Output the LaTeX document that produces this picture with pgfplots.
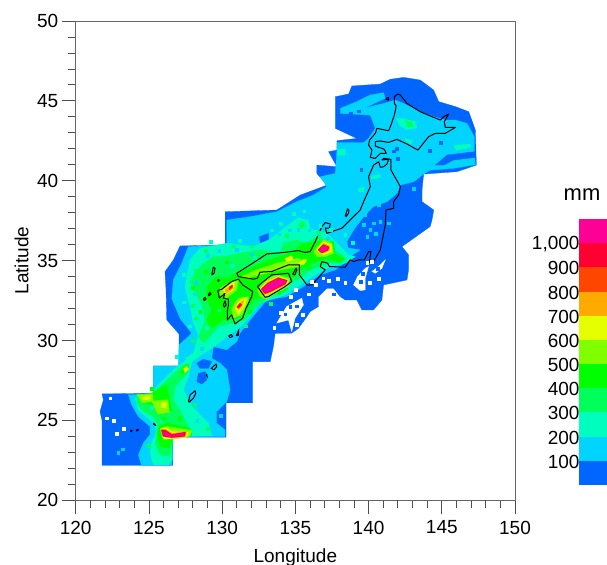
\documentclass[border=0pt]{standalone}
\usepackage{fontspec}
\setmainfont{Liberation Sans}
\usepackage{pgfplots}
\pgfplotsset{compat=1.18}
\definecolor{c0}{RGB}{0,102,255}
\definecolor{c1}{RGB}{0,212,255}
\definecolor{c2}{RGB}{0,255,190}
\definecolor{c3}{RGB}{0,255,90}
\definecolor{c4}{RGB}{0,255,0}
\definecolor{c5}{RGB}{128,255,0}
\definecolor{c6}{RGB}{230,255,0}
\definecolor{c7}{RGB}{255,170,0}
\definecolor{c8}{RGB}{255,70,0}
\definecolor{c9}{RGB}{255,0,50}
\definecolor{c10}{RGB}{255,0,150}
\newcommand\fs{\fontsize{19bp}{22bp}\selectfont}
\newcommand\poly[2]{\addplot[fill=#1,draw=#1,line width=0.3pt] coordinates {#2} -- cycle;}
\newcommand\grow[3]{\addplot[fill=#1,draw=#1,line width=#2,line join=round] coordinates {#3} -- cycle;}
\newcommand\coast[1]{\addplot[draw=black,line width=1bp,line join=round] coordinates {#1} -- cycle;}
\newcommand\isle[1]{\addplot[fill=black,draw=black,line width=0.5bp] coordinates {#1} -- cycle;}
\newcommand\speck[2]{\addplot[only marks,mark=square*,mark size=1.4bp,color=#1] coordinates {#2};}
\begin{document}
\begin{tikzpicture}[x=1bp,y=1bp]
\path[use as bounding box] (0,0) rectangle (607,565);
\begin{axis}[
  at={(75.7bp,64.7bp)},anchor=south west,scale only axis,
  width=439.3bp,height=479.3bp,
  xmin=120,xmax=150,ymin=20,ymax=50,
  xtick={120,125,...,150},ytick={20,25,...,50},
  minor x tick num=4,minor y tick num=4,
  xtick pos=bottom,ytick pos=left,tick align=outside,
  major tick length=14bp,minor tick length=7.5bp,
  every tick/.style={draw=black!70,line width=0.8bp},
  axis line style={draw=black!60,line width=0.9bp},
  /pgf/number format/assume math mode=true,
  /pgf/number format/1000 sep={},
  tick label style={font=\fs},
  xticklabel style={yshift=-3bp},
  xlabel={Longitude},ylabel={Latitude},
  xlabel style={font=\fs,at={(axis description cs:0.5,0)},anchor=center,yshift=-57bp},
  ylabel style={font=\fs,at={(axis description cs:0,0.5)},anchor=center,yshift=54bp},
  clip=true,
]
% level 0: 0-100 mm
\poly{c0}{(137.73,45.26)(138.64,45.43)(138.86,45.93)(140.8,46.05)(141.48,46.35)(142.4,46.47)(143.53,46.30)(144.44,45.68)(144.79,44.95)(145.93,44.64)(146.84,44.32)(147.29,43.18)(147.36,40.98)(146.04,40.57)(143.76,40.42)(143.65,39.42)(143.65,38.69)(144.45,38.17)(144.33,37.54)(144.2,37.13)(142.28,35.88)(142.73,35.36)(142.73,34.42)(142.62,33.79)(141.02,33.48)(140.91,32.54)(140.34,31.92)(139.54,31.92)(139.2,32.54)(138.41,32.54)(138.06,32.75)(137.61,33.27)(137.15,33.27)(136.58,32.75)(136.58,32.13)(136.01,31.81)(135.79,31.5)(135.22,30.77)(134.75,30.46)(133.62,30.45)(133.5,29.62)(133.28,28.68)(132.09,28.68)(132.09,26.1)(130.27,26.1)(130.27,23.95)(126.63,23.95)(126.63,22.19)(121.8,22.19)(121.8,25.0)(121.66,25.55)(121.89,26.28)(121.8,26.66)(125.3,26.7)(125.3,28.41)(127.06,28.41)(127.06,30.41)(126.22,31.29)(126.17,33.17)(126.1,34.31)(126.67,35.04)(127.13,35.92)(130.21,35.98)(130.21,38.06)(133.74,38.17)(135.33,39.1)(137.16,39.73)(136.47,40.46)(136.47,40.98)(137.84,40.88)(137.27,41.82)(137.84,41.92)(137.84,42.51)(139.2,42.65)(137.73,43.28)(137.73,44.2)}
% holes without data
\poly{white}{(133.73,31.09)(134.41,32.13)(135.44,32.65)(135.55,32.23)(134.98,31.4)(134.75,30.56)(134.53,31.29)}
\poly{white}{(138.97,33.48)(139.25,34.0)(139.77,34.52)(140.0,34.63)(139.77,33.9)(139.77,33.17)(139.43,33.13)}
\poly{white}{(140.23,34.32)(140.8,34.73)(141.14,35.05)(140.91,34.52)(140.46,34.21)}
% level 1: 100-200 mm
\poly{c1}{(138.07,44.53)(139.2,44.95)(140.12,45.37)(141.03,45.51)(141.14,45.16)(139.66,44.53)(141.03,44.84)(141.82,45.05)(142.39,44.84)(143.53,44.32)(144.44,44.01)(145.24,43.8)(145.93,43.8)(146.72,43.59)(147.22,42.76)(147.22,41.82)(147.29,41.0)(145.81,40.78)(144.22,40.67)(143.65,40.36)(143.53,40.25)(143.08,39.94)(142.17,39.73)(141.94,39.21)(141.26,38.69)(140.34,38.38)(139.66,37.75)(138.98,36.92)(138.52,36.19)(138.6,35.8)(139.43,35.67)(138.75,35.25)(138.63,35.05)(137.72,34.42)(136.7,34.11)(135.56,33.38)(134.42,32.75)(133.05,32.55)(131.91,31.29)(131.22,30.46)(131.0,29.94)(130.31,29.42)(129.4,29.62)(129.29,28.89)(129.86,28.58)(130.32,28.16)(130.54,26.91)(130.32,26.18)(129.63,25.55)(129.63,24.82)(130.2,24.4)(130.2,23.99)(126.58,23.99)(126.58,22.21)(124.51,22.16)(124.28,22.84)(124.62,23.58)(125.08,24.1)(125.08,24.62)(124.28,25.24)(123.83,25.97)(123.6,26.6)(125.31,26.64)(125.31,28.41)(127.01,28.41)(127.06,29.72)(127.92,30.45)(127.13,31.39)(126.56,32.64)(126.67,33.79)(127.24,34.83)(127.7,35.88)(130.32,35.96)(130.32,37.54)(131.92,37.75)(133.74,38.06)(135.1,38.69)(136.25,39.11)(137.16,39.63)(136.7,40.25)(137.73,40.46)(137.84,41.92)(137.84,42.38)(139.66,42.38)(140.0,42.65)(140.46,43.28)(140.12,44.11)(138.07,44.22)}
\poly{c0}{(144.56,40.98)(145.36,41.61)(147.29,41.82)(147.29,41.46)(145.81,41.3)(145.13,40.98)}
\poly{c0}{(128.27,28.58)(128.72,28.83)(129.29,28.68)(129.06,28.26)(128.49,28.26)}
\poly{c0}{(128.38,27.95)(128.84,28.05)(128.95,27.53)(128.61,27.28)(128.27,27.43)}
\poly{c0}{(132.55,36.5)(133.17,36.71)(133.17,36.18)(132.6,36.12)}
% level 2: 200-300 mm
\poly{c2}{(127.81,35.05)(128.49,35.78)(130.31,36.09)(132.13,35.88)(133.2,36.3)(134.2,37.0)(135.2,37.7)(135.9,37.5)(136.01,37.0)(137.15,36.71)(138.06,35.88)(138.63,35.36)(139.09,35.25)(138.41,34.84)(137.38,34.63)(136.36,34.11)(135.33,33.48)(134.31,32.86)(132.59,32.34)(131.79,31.4)(131.11,30.77)(130.2,30.15)(129.29,29.52)(128.38,29.0)(127.93,28.69)(127.7,27.75)(127.36,26.91)(127.93,25.87)(129.06,24.83)(129.29,24.03)(126.6,24.0)(126.6,22.53)(126.33,22.22)(125.31,22.22)(125.08,22.95)(125.19,23.58)(125.53,24.31)(125.31,24.83)(124.28,25.66)(124.05,26.39)(124.28,26.64)(125.31,26.64)(125.31,26.91)(125.99,27.54)(126.79,28.27)(127.58,28.79)(127.47,28.89)(128.04,29.2)(128.38,30.35)(128.03,31.09)(127.81,32.13)(127.46,33.38)}
\poly{c2}{(141.9,43.9)(142.3,43.9)(143.2,43.7)(143.3,43.3)(142.6,43.2)(142.1,43.5)}
\poly{c2}{(142.5,42.65)(143.0,42.5)(142.9,42.3)(142.5,42.5)}
\poly{c2}{(145.8,42.2)(146.9,42.3)(147,42.1)(146,41.9)}
\poly{c2}{(139.3,39.5)(139.7,39.6)(139.7,39.3)(139.3,39.3)}
\poly{c2}{(140.2,40.3)(140.8,40.4)(140.8,40.2)(140.2,40.1)}
\poly{c2}{(137.9,41.95)(138.4,42)(138.4,41.6)(137.9,41.6)}
% level 3: 300-400 mm
\poly{c3}{(128.49,34.63)(129.4,35.26)(130.2,35.26)(131.22,35.47)(132.59,35.67)(133.96,35.47)(134.19,36.09)(135.1,36.3)(135.79,36.09)(136.47,36.51)(137.15,36.3)(137.61,35.67)(138.18,35.36)(138.29,34.94)(137.27,34.84)(136.01,34.42)(135.33,33.9)(134.65,33.59)(134.19,33.06)(133.05,32.65)(132.02,31.82)(131.57,31.29)(130.77,31.09)(129.74,30.88)(129.06,30.15)(128.72,29.83)(128.38,30.25)(128.83,31.19)(128.6,32.34)(128.15,32.96)(127.81,33.69)}
\poly{c3}{(124.17,26.6)(125.31,26.7)(125.88,27.23)(127.24,28.37)(127.7,28.58)(127.7,28.06)(126.79,27.12)(126.67,26.29)(127.24,25.45)(127.7,24.62)(127.93,24.1)(126.67,23.89)(126.45,22.74)(125.76,22.84)(125.42,23.58)(125.76,24.51)(125.31,25.24)(124.62,25.56)(124.17,26.08)}
\poly{c3}{(135.2,37.2)(135.5,37.5)(135.7,37.2)(135.4,37.0)}
\poly{c3}{(142.5,43.75)(142.95,43.7)(143.05,43.4)(142.7,43.35)}
% level 4: 400-500 mm
\poly{c4}{(128.95,33.38)(129.63,34.01)(130.31,33.9)(131.0,34.21)(132.13,34.63)(133.27,35.05)(134.87,35.57)(135.56,36.09)(136.36,36.19)(137.61,36.19)(137.72,35.36)(138.41,35.15)(138.06,34.84)(137.15,35.15)(136.13,34.84)(135.33,34.42)(134.65,33.79)(134.42,33.17)(132.82,32.65)(132.25,32.65)(132.02,32.34)(131.45,31.61)(130.77,31.29)(130.08,31.29)(129.29,30.77)(128.95,31.29)(129.29,31.92)(128.95,32.65)}
\poly{c4}{(124.28,26.6)(125.19,26.7)(125.76,27.02)(126.22,27.23)(126.35,26.6)(126.55,25.6)(125.76,25.36)(125.19,25.98)(124.62,26.08)}
\poly{c4}{(125.65,24.62)(126.22,24.83)(127.81,24.51)(127.93,24.03)(126.6,23.83)(126.38,23.26)(125.76,23.37)(125.53,24.1)}
\poly{c4}{(127.13,28)(127.58,28.54)(127.74,28.37)(127.29,27.91)}
% level 5: 500-600 mm
\poly{c5}{(129.86,33.28)(130.65,33.69)(131.11,33.8)(131.0,33.17)(130.31,32.65)(129.86,32.86)}
\poly{c5}{(130.65,32.02)(131.11,32.65)(131.79,32.75)(131.79,32.34)(131.34,31.61)(130.77,31.4)}
\poly{c5}{(132.41,33.17)(132.93,33.8)(133.73,34.11)(134.64,33.9)(134.53,33.38)(133.5,32.86)(133.05,32.59)(132.59,32.75)}
\poly{c5}{(131.34,34.01)(132.36,34.42)(133.73,34.84)(135.21,35.15)(135.55,34.94)(135.32,34.63)(133.96,34.42)(132.59,34.11)(131.68,33.9)}
\poly{c5}{(136.24,35.57)(136.92,36.3)(137.49,36.09)(137.61,35.46)(137.04,35.25)(136.47,35.25)}
\poly{c5}{(124.2,26.6)(125.25,26.65)(125.3,26.2)(124.55,26.1)}
\poly{c5}{(125.2,26.2)(126.3,26.3)(126.4,25.5)(125.6,25.4)}
\poly{c5}{(125.76,24.51)(126.22,24.62)(127.93,24.37)(127.81,24.03)(126.6,23.89)(125.99,23.78)}
% level 6: 600-700 mm
\poly{c6}{(130.08,33.17)(130.65,33.59)(130.88,33.69)(130.77,33.17)(130.2,32.86)}
\poly{c6}{(130.88,32.02)(131.22,32.55)(131.72,32.71)(131.57,32.23)(131.11,31.61)}
\poly{c6}{(132.59,33.21)(133.05,33.69)(133.84,34.01)(134.53,33.8)(134.41,33.42)(133.27,32.96)(132.86,32.75)}
\poly{c6}{(136.47,35.67)(136.92,36.19)(137.49,35.98)(137.49,35.57)(136.92,35.36)}
\poly{c6}{(135.22,34.84)(135.56,35.09)(135.79,35.05)(135.56,34.73)}
\poly{c6}{(134.3,35.15)(134.75,35.3)(134.87,35.05)(134.41,34.94)}
\poly{c6}{(124.51,26.45)(125.08,26.54)(125.08,26.33)(124.62,26.29)}
\poly{c6}{(125.88,26.12)(126.22,26.08)(126.17,25.77)(125.83,25.81)}
\poly{c6}{(125.83,24.51)(126.22,24.51)(126.56,24.3)(127.7,24.24)(127.58,23.95)(126.56,23.83)(125.99,23.89)}
\poly{c6}{(127.36,28.21)(127.58,28.41)(127.7,28.21)(127.47,28.0)}
% level 7: 700-800 mm
\poly{c7}{(130.2,33.17)(130.65,33.48)(130.77,33.28)(130.31,32.96)}
\poly{c7}{(131.0,32.13)(131.34,32.44)(131.5,32.55)(131.34,32.13)(131.11,31.92)}
\poly{c7}{(132.64,33.21)(133.09,33.63)(133.84,33.96)(134.46,33.75)(134.3,33.48)(133.27,33.0)(132.86,32.86)}
\poly{c7}{(136.54,35.67)(136.92,36.09)(137.38,35.92)(137.33,35.63)(136.88,35.46)}
\poly{c7}{(125.83,24.45)(126.15,24.45)(126.6,24.2)(127.58,24.3)(127.52,23.99)(126.56,23.89)(125.99,23.99)}
% levels 8-10: 800 mm and over
\poly{c9}{(131.0,32.09)(131.22,32.34)(131.34,32.23)(131.11,32.02)}
\poly{c9}{(130.49,33.34)(130.7,33.48)(130.7,33.34)(130.49,33.17)}
\grow{c9}{1.2bp}{(132.7,33.21)(133.16,33.59)(133.84,33.9)(134.41,33.75)(134.3,33.55)(133.27,33.07)(132.93,32.96)}
\grow{c9}{1.2bp}{(136.58,35.67)(136.92,35.98)(137.27,35.84)(137.2,35.67)(136.81,35.5)}
\grow{c9}{1.2bp}{(125.88,24.37)(126.1,24.37)(126.56,24.1)(127.47,24.24)(127.42,24.03)(126.56,23.95)(125.99,24.03)}
\poly{c10}{(132.75,33.21)(133.16,33.55)(133.84,33.86)(134.36,33.72)(134.25,33.55)(133.27,33.11)(132.93,33.0)}
\poly{c10}{(136.62,35.67)(136.92,35.94)(137.22,35.82)(137.15,35.68)(136.81,35.54)}
\poly{c10}{(125.92,24.3)(126.1,24.3)(126.56,24.05)(127.4,24.18)(127.38,24.07)(126.56,23.99)(126.05,24.07)}
% speckle
\speck{white}{(122.12,25.14)(122.62,24.97)(123.26,24.47)(122.8,24.16)(122.35,26.39)(139.9,34.85)(140.2,34.95)(136.9,33.9)(136.4,33.5)(137.3,33.75)(137.9,33.85)(138.4,33.6)(136.1,33.7)(135.0,33.2)(134.7,32.75)(135.1,31.0)(135.5,31.6)(133.55,30.8)(134.0,31.75)(135.9,32.9)(140.7,33.85)(140.05,33.6)}
\speck{c0}{(134.3,31.65)(134.65,32.1)(135.1,32.15)(139.45,33.7)(139.6,34.2)(140.6,34.5)(137.6,32.9)(138.0,33.05)}
\speck{c1}{(133.9,36.65)(134.6,36.9)(135.2,36.95)(135.95,36.9)(136.6,36.65)(137.2,36.4)(129.0,35.3)(129.8,35.6)(131.0,35.7)(132.0,35.4)(128.2,33.6)(128.1,32.9)(128.2,30.3)(128.6,29.5)(139.77,37.86)(140.34,37.34)(140.8,37.44)(141.37,37.34)(140.11,36.92)(139.66,37.24)(140.68,38.49)(139.9,36.5)(140.5,36.7)(142.5,40.0)(143.1,39.5)(141.6,40.0)(122.9,23.0)(123.2,23.2)(126.4,28.2)(125.7,27.9)(129.9,25.3)(128.3,25.0)}
\speck{c0}{(130.0,29.4)(130.5,29.0)(129.7,29.1)(131.4,30.1)(130.9,29.6)(131.9,31.0)(142.0,41.4)(144.2,41.9)(144.9,42.4)(141.9,42.0)(139.5,40.7)(138.8,44.2)(139.3,44.35)(141.7,41.85)}
\speck{c2}{(133.4,36.9)(134.0,37.3)(134.9,37.95)(135.6,38.1)(136.7,37.2)(137.4,36.95)(138.4,36.6)(138.9,36.1)(129.2,36.2)(131.2,36.25)(127.4,34.1)(127.4,32.4)(127.8,30.9)(126.9,29.0)(128.0,28.9)}
\speck{c3}{(128.9,35.6)(130.8,35.9)(132.0,35.9)(134.4,36.55)(136.6,36.75)(128.2,34.35)(128.0,32.2)(128.2,31.4)(128.0,30.0)(131.6,30.9)(133.3,32.3)(128.1,26.0)(129.0,24.5)(125.0,23.4)}
\speck{c2}{(129.8,31.9)(128.95,30.8)(130.7,34.7)(132.2,35.2)(125.9,24.95)(126.9,26.2)(125.2,25.8)}
\speck{c4}{(128.0,33.3)(128.9,34.3)(130.3,34.9)(128.5,31.8)(131.9,31.8)(133.9,33.0)(135.9,34.55)(127.1,25.1)(126.0,25.1)(125.2,27.0)}
% coastlines
\coast{(141.98,45.43)(141.76,45.26)(141.76,44.84)(141.89,44.68)(141.76,44.11)(141.53,43.49)(141.37,43.13)(140.57,43.28)(140.46,42.97)(140.07,42.55)(140.0,42.24)(140.23,41.92)(140.12,41.46)(140.46,41.4)(140.8,41.71)(141.21,41.71)(141.07,41.97)(140.46,42.17)(140.46,42.45)(140.8,42.49)(141.37,42.40)(141.94,42.59)(142.62,42.3)(143.37,41.92)(143.65,42.24)(144.1,42.76)(144.56,42.97)(145.24,42.97)(145.93,43.34)(145.24,43.34)(145.17,43.7)(145.47,44.18)(145.13,44.01)(144.9,43.8)(144.33,44.01)(143.53,44.32)(142.62,44.84)(142.17,45.37)}
\coast{(141.03,41.4)(141.53,41.34)(141.53,40.67)(142.17,39.63)(142.05,39.11)(141.71,38.69)(141.71,38.27)(141.19,38.17)(141.14,37.23)(140.8,35.67)(140.34,34.94)(140.05,34.88)(140.16,35.57)(140.0,35.57)(139.71,35.04)(139.32,35.05)(138.98,34.94)(138.75,35.05)(138.41,34.59)(137.33,34.63)(137.2,34.84)(136.81,34.94)(136.7,34.63)(137.04,34.42)(136.13,33.48)(135.79,33.48)(135.28,34.11)(135.28,34.73)(134.53,34.74)(133.39,34.32)(132.59,34.28)(132.41,33.9)(132.13,33.84)(131.11,34.0)(131.0,34.21)(132.02,34.8)(133.05,35.42)(134.18,35.51)(135.21,35.63)(135.67,35.51)(136.01,35.57)(136.36,36.19)(136.81,37.13)(137.04,37.38)(137.38,37.3)(137.33,37.03)(137.04,37.03)(137.15,36.71)(138.18,37.03)(139.43,38.17)(139.66,38.69)(140.12,39.63)(140.0,40.25)(140.34,40.98)(140.69,41.19)(140.8,40.84)(141.03,40.88)(141.26,41.05)(141.37,41.34)(140.91,41.3)}
\coast{(132.41,33.38)(133.39,34.11)(134.53,34.21)(134.75,33.69)(134.3,33.38)(133.16,32.75)(132.93,32.71)}
\coast{(134.82,34.15)(135.05,34.53)(135.1,34.42)(134.96,34.1)}
\coast{(129.7,33.13)(129.97,33.21)(130.65,33.69)(131.11,33.84)(131.41,33.48)(132.09,33.07)(132.02,32.75)(131.63,32.02)(131.4,31.4)(130.88,31.04)(130.65,31.61)(130.36,31.29)(130.36,31.88)(130.43,32.23)(130.43,32.59)(130.08,32.65)(130.2,32.96)(129.81,32.65)}
\coast{(138.41,37.8)(138.56,38.24)(138.66,38.17)(138.63,37.97)(138.47,37.76)}
\coast{(127.7,26.18)(127.81,26.6)(128.15,26.85)(128.2,26.7)(128.04,26.39)(127.74,26.14)}
\coast{(129.25,28.26)(129.59,28.53)(129.63,28.37)(129.45,28.16)}
\coast{(129.29,34.11)(129.4,34.59)(129.52,34.53)(129.45,34.21)}
\coast{(128.72,32.59)(128.83,32.71)(128.9,32.59)(128.79,32.5)}
\coast{(129.06,32.86)(129.17,33.03)(129.24,32.9)(129.1,32.8)}
\coast{(130.08,32.23)(130.2,32.48)(130.27,32.23)(130.15,32.09)}
\coast{(130.45,30.29)(130.63,30.38)(130.72,30.25)(130.54,30.19)}
\isle{(130.95,30.29)(131.15,30.71)(131.15,30.35)(131.04,30.29)}
\isle{(129.7,33.78)(129.78,33.82)(129.8,33.72)(129.72,33.7)}
\isle{(128.9,27.85)(128.95,27.91)(129.0,27.7)}
\isle{(125.31,24.83)(125.37,24.83)(125.47,24.68)(125.33,24.72)}
\isle{(124.12,24.41)(124.28,24.45)(124.28,24.35)(124.15,24.33)}
\isle{(123.76,24.41)(123.87,24.37)(123.83,24.28)(123.73,24.31)}
\coast{(141.19,45.16)(141.37,45.2)(141.37,45.05)(141.19,45.09)}
\end{axis}
\begin{axis}[
  at={(579bp,80bp)},anchor=south west,scale only axis,
  width=28bp,height=266bp,
  xmin=0,xmax=1,ymin=0,ymax=1100,
  xtick=\empty,ytick={100,200,...,1000},
  ytick pos=left,major tick length=0pt,
  every tick/.style={draw=none},
  axis line style={draw=none},
  /pgf/number format/assume math mode=true,
  /pgf/number format/1000 sep={,},
  tick label style={font=\fs},
  yticklabel style={xshift=4bp,yshift=-1bp},
]
\addplot[fill=c0,draw=none] coordinates {(0,0)(1,0)(1,100)(0,100)} -- cycle;
\addplot[fill=c1,draw=none] coordinates {(0,100)(1,100)(1,200)(0,200)} -- cycle;
\addplot[fill=c2,draw=none] coordinates {(0,200)(1,200)(1,300)(0,300)} -- cycle;
\addplot[fill=c3,draw=none] coordinates {(0,300)(1,300)(1,400)(0,400)} -- cycle;
\addplot[fill=c4,draw=none] coordinates {(0,400)(1,400)(1,500)(0,500)} -- cycle;
\addplot[fill=c5,draw=none] coordinates {(0,500)(1,500)(1,600)(0,600)} -- cycle;
\addplot[fill=c6,draw=none] coordinates {(0,600)(1,600)(1,700)(0,700)} -- cycle;
\addplot[fill=c7,draw=none] coordinates {(0,700)(1,700)(1,800)(0,800)} -- cycle;
\addplot[fill=c8,draw=none] coordinates {(0,800)(1,800)(1,900)(0,900)} -- cycle;
\addplot[fill=c9,draw=none] coordinates {(0,900)(1,900)(1,1000)(0,1000)} -- cycle;
\addplot[fill=c10,draw=none] coordinates {(0,1000)(1,1000)(1,1100)(0,1100)} -- cycle;
\end{axis}
\node[font=\fontsize{22bp}{24bp}\selectfont] at (582bp,370bp) {mm};
\end{tikzpicture}
\end{document}
